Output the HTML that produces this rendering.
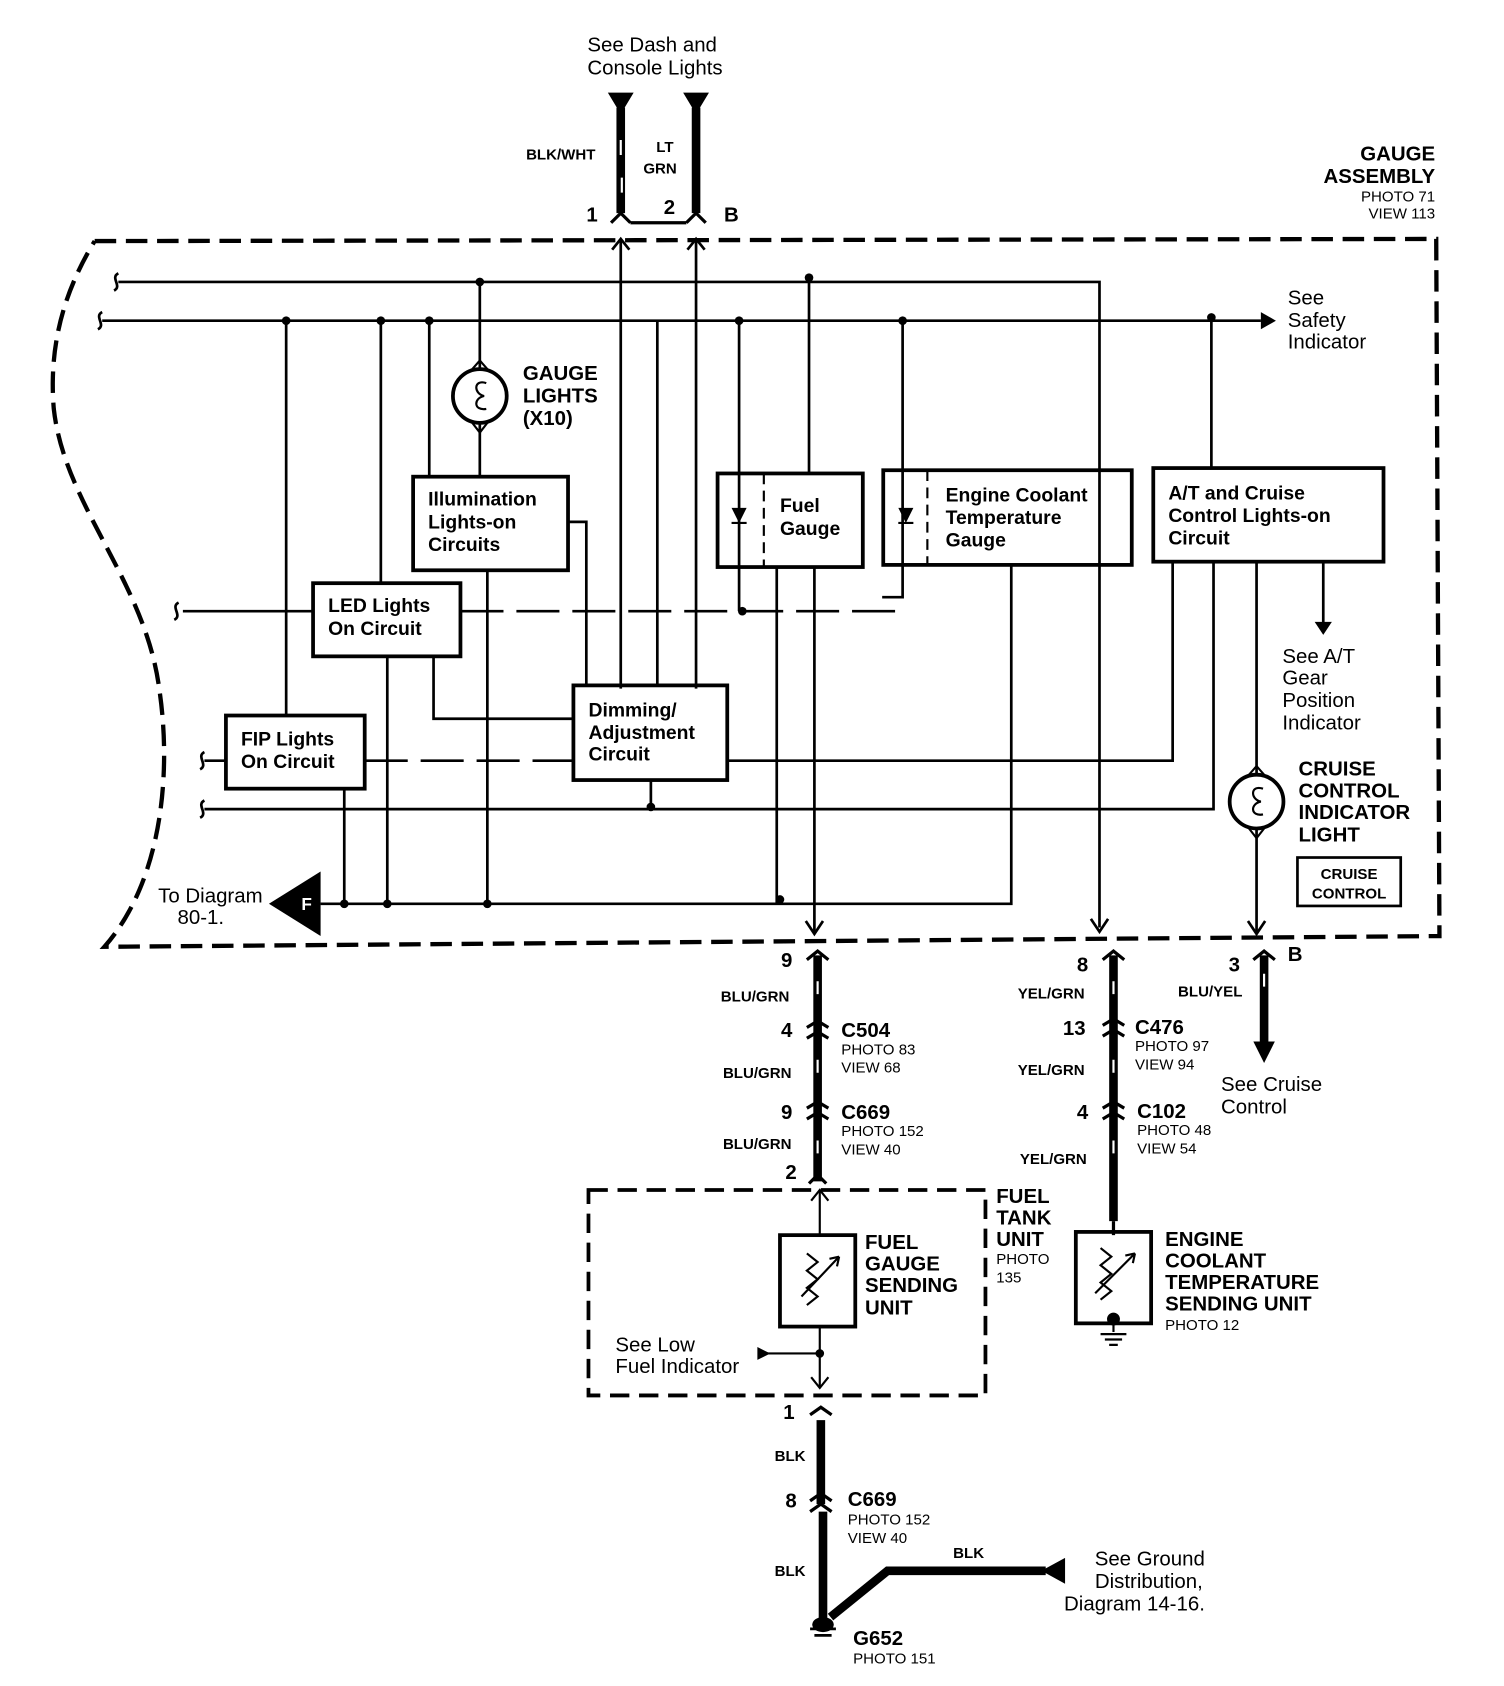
<!DOCTYPE html>
<html><head><meta charset="utf-8"><style>
html,body{margin:0;padding:0;background:#fff;}
svg{display:block;}
text{font-family:"Liberation Sans",sans-serif;fill:#000;}
.n{font-size:19px;}
.b{font-size:19px;font-weight:bold;}
.s{font-size:14px;}
.sb{font-size:14px;font-weight:bold;}
.bb{font-size:18px;font-weight:bold;}
</style></head><body>
<svg width="1504" height="1686" viewBox="0 0 1398 1567" xmlns="http://www.w3.org/2000/svg">
<g fill="none" stroke="#000">
<!-- gauge assembly dashed border -->
<path d="M88,224 L1335,222 L1338,870 L97,880 C150,820 160,720 148,640 C135,540 60,470 50,380 C45,320 60,270 88,224" stroke-width="4" stroke-dasharray="20,9"/>
<!-- top wires -->
<path d="M577,100 V198 M647,100 V198" stroke-width="8"/>
<path d="M577,130 v14 M578,165 v14" stroke="#fff" stroke-width="2"/>
<path d="M568,207 L577,198 L586,207 M638,207 L647,198 L656,207 M586,207 H638" stroke-width="3"/>
<path d="M577,222 V640 M647,222 V640" stroke-width="2.5"/>
<path d="M569,232 L577,222 L585,232 M639,232 L647,222 L655,232" stroke-width="2.5"/>
<!-- buses -->
<g stroke-width="2.5">
<path d="M110,262 H1022 V862"/>
<path d="M95,298 H1172"/>
<path d="M266,298 V665 M354,298 V542 M360,610 V840 M399,298 V443 M611,298 V637"/>
<path d="M446,262 V342 M446,394 V443"/>
<path d="M752,262 V440"/>
<path d="M687,298 V568 M839,298 V555 H820"/>
<path d="M1126,298 V435"/>
<path d="M528,485 H545 V637"/>
<path d="M453,530 V840"/>
<path d="M170,568 H291"/>
<path d="M428,568 H840" stroke-dasharray="40,12"/>
<path d="M403,610 V668 H533"/>
<path d="M190,707 H210"/>
<path d="M339,707 H533" stroke-dasharray="40,12"/>
<path d="M676,707 H1090 V522"/>
<path d="M190,752 H1128 V522"/>
<path d="M605,725 V752"/>
<path d="M320,733 V840"/>
<path d="M298,840 H940 V525"/>
<path d="M722,527 V840 M757,527 V866"/>
<path d="M1168,522 V720 M1168,770 V866"/>
<path d="M1230,522 V580"/>
</g>
<!-- arrow heads small -->
<path d="M749,856 L757,868 L765,856 M1014,854 L1022,866 L1030,854 M1160,856 L1168,868 L1176,856" stroke-width="2.5"/>
<!-- boxes -->
<g stroke-width="3.5">
<rect x="384" y="443" width="144" height="87"/>
<rect x="291" y="542" width="137" height="68"/>
<rect x="210" y="665" width="129" height="68"/>
<rect x="533" y="637" width="143" height="88"/>
<rect x="667" y="440" width="135" height="87"/>
<rect x="821" y="437" width="231" height="88"/>
<rect x="1072" y="435" width="214" height="87"/>
<rect x="1206" y="797" width="96" height="45" stroke-width="2.5"/>
<rect x="725" y="1148" width="70" height="85"/>
<rect x="1000" y="1145" width="70" height="85"/>
</g>
<path d="M710,440 V527 M862,437 V525" stroke-width="2" stroke-dasharray="10,6"/>
<!-- gauge lights bulb -->
<circle cx="446" cy="368" r="25" stroke-width="3.5"/>
<path d="M439,343 L446,335 L453,343 M439,393 L446,402 L453,393" stroke-width="2"/>
<path d="M452,356 C440,352 440,366 450,368 C440,370 440,382 452,380" stroke-width="2"/>
<circle cx="1168" cy="745" r="25" stroke-width="3.5"/>
<path d="M1161,720 L1168,712 L1175,720 M1161,770 L1168,779 L1175,770" stroke-width="2"/>
<path d="M1174,733 C1162,729 1162,743 1172,745 C1162,747 1162,759 1174,757" stroke-width="2"/>
<!-- squiggles -->
<g stroke-width="2.5">
<path d="M110,254 c-8,4 4,12 -4,16"/>
<path d="M95,290 c-8,4 4,12 -4,16"/>
<path d="M166,560 c-8,4 4,12 -4,16"/>
<path d="M190,699 c-8,4 4,12 -4,16"/>
<path d="M190,744 c-8,4 4,12 -4,16"/>
</g>
<!-- bottom wires -->
<path d="M760,888 V1098 M1035,888 V1135 M1175,888 V970 M763,1320 V1398 M765,1405 V1505 M772,1503 L825,1460 H972" stroke-width="8"/>
<path d="M760,912 v12 M760,985 v12 M760,1060 v12 M1035,912 v12 M1035,985 v12 M1035,1060 v12 M1175,905 v12" stroke="#fff" stroke-width="2"/>
<g stroke-width="3">
<path d="M750,892 L760,884 L770,892 M1025,892 L1035,884 L1045,892 M1165,892 L1175,884 L1185,892"/>
<path d="M750,955 L760,949 L770,955 M750,965 L760,959 L770,965"/>
<path d="M750,1030 L760,1024 L770,1030 M750,1040 L760,1034 L770,1040"/>
<path d="M1025,953 L1035,947 L1045,953 M1025,963 L1035,957 L1045,963"/>
<path d="M1025,1030 L1035,1024 L1045,1030 M1025,1040 L1035,1034 L1045,1040"/>
<path d="M752,1100 L760,1092 L768,1100"/>
<path d="M753,1315 L763,1308 L773,1315"/>
<path d="M753,1395 L763,1388 L773,1395 M753,1405 L763,1398 L773,1405"/>
</g>
<!-- fuel tank unit -->
<rect x="547" y="1106" width="369" height="191" stroke-width="3.5" stroke-dasharray="18,9"/>
<path d="M762,1106 V1148 M762,1233 V1290 M710,1258 H762" stroke-width="2"/>
<path d="M754,1116 L762,1106 L770,1116 M754,1280 L762,1290 L770,1280" stroke-width="2"/>
<path d="M750,1165 l10,8 -10,8 10,8 -10,8 10,8 -10,8" stroke-width="2"/>
<path d="M745,1205 L780,1168 M780,1168 l-9,2 M780,1168 l-2,9" stroke-width="2"/>
<path d="M1023,1160 l10,8 -10,8 10,8 -10,8 10,8 -10,8" stroke-width="2"/>
<path d="M1018,1202 L1055,1165 M1055,1165 l-9,2 M1055,1165 l-2,9" stroke-width="2"/>
<path d="M1035,1230 V1238 M1023,1240 H1047 M1027,1245 H1043 M1031,1250 H1039" stroke-width="2"/>
<path d="M753,1514 H777 M757,1520 H773" stroke-width="2.5"/>
<path d="M1035,1135 V1148" stroke-width="3"/>
</g>
<g fill="#000">
<path d="M565,86 H589 L577,106 Z M635,86 H659 L647,106 Z"/>
<path d="M1172,290 L1186,298 L1172,306 Z"/>
<path d="M1222,578 H1238 L1230,590 Z"/>
<path d="M1165,968 H1185 L1175,988 Z"/>
<path d="M250,840 L298,810 V870 Z"/>
<path d="M990,1448 V1472 L968,1460 Z"/>
<path d="M704,1252 L716,1258 L704,1264 Z"/>
<path d="M680,472 H694 L687,486 Z M835,472 H849 L842,486 Z"/>
<circle cx="446" cy="262" r="4"/><circle cx="752" cy="258" r="4"/>
<circle cx="266" cy="298" r="4"/><circle cx="354" cy="298" r="4"/><circle cx="399" cy="298" r="4"/>
<circle cx="687" cy="298" r="4"/><circle cx="839" cy="298" r="4"/><circle cx="1126" cy="295" r="4"/>
<circle cx="690" cy="568" r="4"/><circle cx="605" cy="750" r="4"/>
<circle cx="320" cy="840" r="4"/><circle cx="360" cy="840" r="4"/><circle cx="453" cy="840" r="4"/><circle cx="725" cy="836" r="4"/>
<circle cx="762" cy="1258" r="4"/>
<circle cx="1035" cy="1226" r="6"/>
<ellipse cx="765" cy="1510" rx="10" ry="7"/>
</g>
<path d="M680,486 H694 M835,486 H849" stroke="#000" stroke-width="2"/>
<text x="285" y="846" font-size="16" style="fill:#fff" font-weight="bold" text-anchor="middle">F</text>
<!-- text -->
<text class="n" x="546" y="48">See Dash and</text>
<text class="n" x="546" y="69">Console Lights</text>
<text class="sb" x="489" y="148">BLK/WHT</text>
<text class="sb" x="610" y="141">LT</text>
<text class="sb" x="598" y="161">GRN</text>
<text class="b" x="545" y="206">1</text><text class="b" x="617" y="199">2</text><text class="b" x="673" y="206">B</text>
<text class="b" x="1334" y="149" text-anchor="end">GAUGE</text>
<text class="b" x="1334" y="170" text-anchor="end">ASSEMBLY</text>
<text class="s" x="1334" y="187" text-anchor="end">PHOTO 71</text>
<text class="s" x="1334" y="203" text-anchor="end">VIEW 113</text>
<text class="n" x="1197" y="283">See</text><text class="n" x="1197" y="304">Safety</text><text class="n" x="1197" y="324">Indicator</text>
<text class="b" x="486" y="353">GAUGE</text><text class="b" x="486" y="374">LIGHTS</text><text class="b" x="486" y="395">(X10)</text>
<text class="bb" x="398" y="470">Illumination</text><text class="bb" x="398" y="491">Lights-on</text><text class="bb" x="398" y="512">Circuits</text>
<text class="bb" x="725" y="476">Fuel</text><text class="bb" x="725" y="497">Gauge</text>
<text class="bb" x="879" y="466">Engine Coolant</text><text class="bb" x="879" y="487">Temperature</text><text class="bb" x="879" y="508">Gauge</text>
<text class="bb" x="1086" y="464">A/T and Cruise</text><text class="bb" x="1086" y="485">Control Lights-on</text><text class="bb" x="1086" y="506">Circuit</text>
<text class="bb" x="305" y="569">LED Lights</text><text class="bb" x="305" y="590">On Circuit</text>
<text class="n" x="1192" y="616">See A/T</text><text class="n" x="1192" y="636">Gear</text><text class="n" x="1192" y="657">Position</text><text class="n" x="1192" y="678">Indicator</text>
<text class="bb" x="547" y="666">Dimming/</text><text class="bb" x="547" y="687">Adjustment</text><text class="bb" x="547" y="707">Circuit</text>
<text class="bb" x="224" y="693">FIP Lights</text><text class="bb" x="224" y="714">On Circuit</text>
<text class="b" x="1207" y="721">CRUISE</text><text class="b" x="1207" y="741">CONTROL</text><text class="b" x="1207" y="761">INDICATOR</text><text class="b" x="1207" y="782">LIGHT</text>
<text class="sb" x="1254" y="817" text-anchor="middle">CRUISE</text><text class="sb" x="1254" y="835" text-anchor="middle">CONTROL</text>
<text class="n" x="147" y="839">To Diagram</text><text class="n" x="165" y="859">80-1.</text>
<text class="b" x="726" y="899">9</text>
<text class="sb" x="670" y="931">BLU/GRN</text>
<text class="b" x="726" y="964">4</text>
<text class="b" x="782" y="964">C504</text><text class="s" x="782" y="980">PHOTO 83</text><text class="s" x="782" y="997">VIEW 68</text>
<text class="sb" x="672" y="1002">BLU/GRN</text>
<text class="b" x="726" y="1040">9</text>
<text class="b" x="782" y="1040">C669</text><text class="s" x="782" y="1056">PHOTO 152</text><text class="s" x="782" y="1073">VIEW 40</text>
<text class="sb" x="672" y="1068">BLU/GRN</text>
<text class="b" x="730" y="1096">2</text>
<text class="b" x="1001" y="903">8</text>
<text class="sb" x="946" y="928">YEL/GRN</text>
<text class="b" x="988" y="962">13</text>
<text class="b" x="1055" y="961">C476</text><text class="s" x="1055" y="977">PHOTO 97</text><text class="s" x="1055" y="994">VIEW 94</text>
<text class="sb" x="946" y="999">YEL/GRN</text>
<text class="b" x="1001" y="1040">4</text>
<text class="b" x="1057" y="1039">C102</text><text class="s" x="1057" y="1055">PHOTO 48</text><text class="s" x="1057" y="1072">VIEW 54</text>
<text class="sb" x="948" y="1082">YEL/GRN</text>
<text class="b" x="1142" y="903">3</text><text class="b" x="1197" y="893">B</text>
<text class="sb" x="1095" y="926">BLU/YEL</text>
<text class="n" x="1135" y="1014">See Cruise</text><text class="n" x="1135" y="1035">Control</text>
<text class="b" x="926" y="1118">FUEL</text><text class="b" x="926" y="1138">TANK</text><text class="b" x="926" y="1158">UNIT</text>
<text class="s" x="926" y="1175">PHOTO</text><text class="s" x="926" y="1192">135</text>
<text class="b" x="804" y="1161">FUEL</text><text class="b" x="804" y="1181">GAUGE</text><text class="b" x="804" y="1201">SENDING</text><text class="b" x="804" y="1222">UNIT</text>
<text class="n" x="572" y="1256">See Low</text><text class="n" x="572" y="1276">Fuel Indicator</text>
<text class="b" x="1083" y="1158">ENGINE</text><text class="b" x="1083" y="1178">COOLANT</text><text class="b" x="1083" y="1198">TEMPERATURE</text><text class="b" x="1083" y="1218">SENDING UNIT</text>
<text class="s" x="1083" y="1236">PHOTO 12</text>
<text class="b" x="728" y="1319">1</text>
<text class="sb" x="720" y="1358">BLK</text>
<text class="b" x="730" y="1401">8</text>
<text class="b" x="788" y="1400">C669</text><text class="s" x="788" y="1417">PHOTO 152</text><text class="s" x="788" y="1434">VIEW 40</text>
<text class="sb" x="886" y="1448">BLK</text>
<text class="sb" x="720" y="1465">BLK</text>
<text class="n" x="1120" y="1455" text-anchor="end">See Ground</text>
<text class="n" x="1118" y="1476" text-anchor="end">Distribution,</text>
<text class="n" x="1120" y="1497" text-anchor="end">Diagram 14-16.</text>
<text class="b" x="793" y="1529">G652</text><text class="s" x="793" y="1546">PHOTO 151</text>
</svg>
</body></html>
